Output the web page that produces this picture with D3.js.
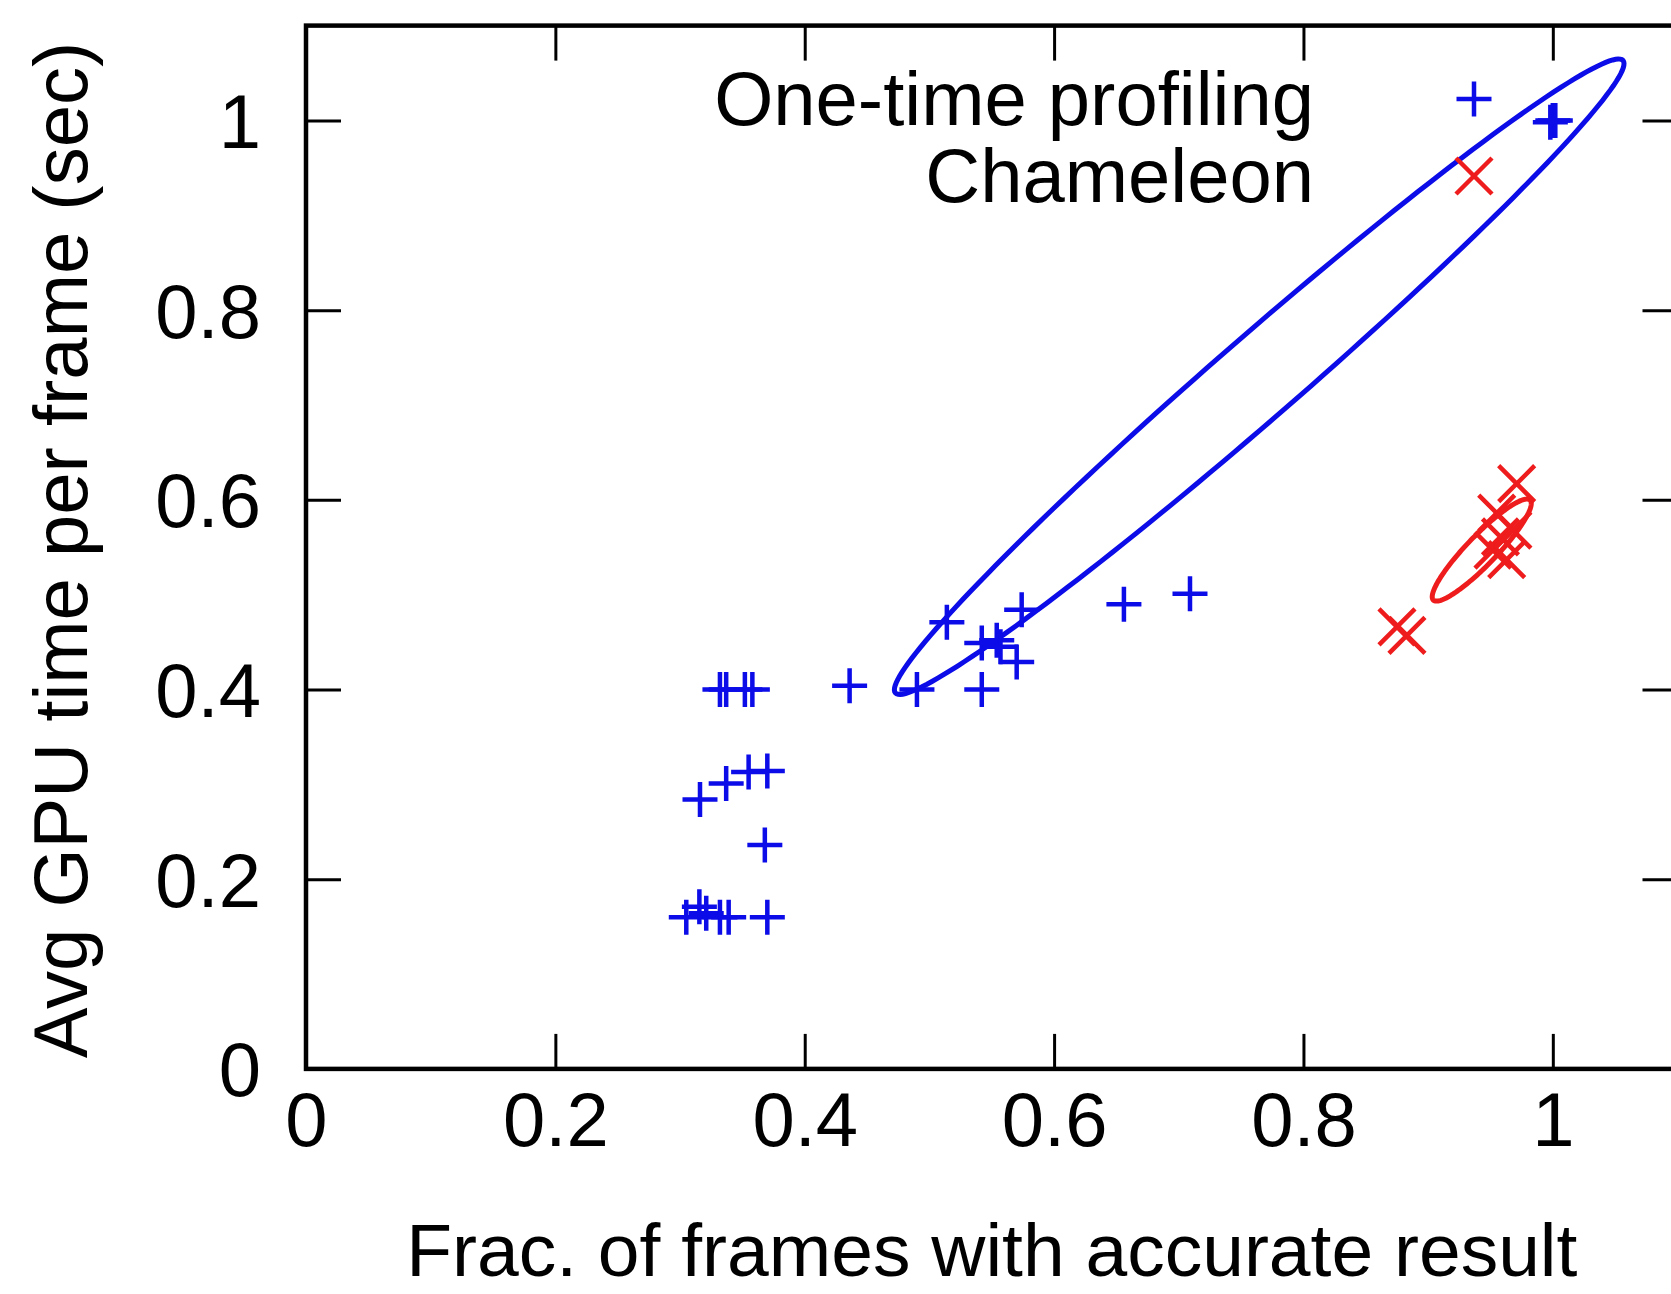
<!DOCTYPE html>
<html>
<head>
<meta charset="utf-8">
<script src="https://cdn.jsdelivr.net/npm/d3@7"></script>
<style>
  body { margin: 0; background: #fff; }
  svg { display: block; font-family: "Liberation Sans", Arial, Helvetica, sans-serif; }
</style>
</head>
<body>
<svg id="chart" width="1671" height="1294"></svg>
<script>
// ticks
const xTicks = [0, 0.2, 0.4, 0.6, 0.8, 1];
const yTicks = [0, 0.2, 0.4, 0.6, 0.8, 1];

// One-time profiling (blue +)
const profX = [1.0, 0.998, 1.002, 0.514, 0.542, 0.554, 0.557, 0.570, 0.574, 0.542, 0.490, 0.436, 0.656, 0.709,
               0.332, 0.337, 0.352, 0.358, 0.316, 0.337, 0.355, 0.370, 0.368,
               0.305, 0.3155, 0.321, 0.332, 0.339, 0.370];
const profY = [1.0, 0.998, 1.0, 0.471, 0.449, 0.452, 0.445, 0.429, 0.484, 0.400, 0.400, 0.404, 0.490, 0.501,
               0.400, 0.400, 0.400, 0.400, 0.284, 0.301, 0.313, 0.314, 0.236,
               0.160, 0.171, 0.164, 0.160, 0.160, 0.160];

// Chameleon (red x)
const chamX = [0.875, 0.883, 0.971, 0.955, 0.958, 0.952, 0.963, 0.968];
const chamY = [0.466, 0.457, 0.617, 0.586, 0.561, 0.547, 0.537, 0.568];

// ellipses: centre, major half-axis, minor half-axis (data units)
const profEllipse = [[0.7645, 0.7298], [0.2918, 0.3334], [0.0216, -0.0326]];
const chamEllipse = [[0.943, 0.547], [0.0388, 0.0527], [0.0085, -0.0108]];

const blue = "#0c0ce8";
const red = "#ee1c1c";

const svg = d3.select("#chart");
const plotLeft = 306, plotRight = 1677.5, plotTop = 25.6, plotBottom = 1068.9;

const x = d3.scaleLinear().domain([0, 1.1]).range([plotLeft, plotRight]);
const y = d3.scaleLinear().domain([0, 1.1]).range([plotBottom, plotTop]);

// ellipses
function ellipsePts(e) {
  const pts = [];
  for (let i = 0; i < 180; i++) {
    const t = i / 180 * 2 * Math.PI;
    pts.push([e[0][0] + e[1][0] * Math.cos(t) + e[2][0] * Math.sin(t),
              e[0][1] + e[1][1] * Math.cos(t) + e[2][1] * Math.sin(t)]);
  }
  return pts;
}
const line = d3.line().x(d => x(d[0])).y(d => y(d[1])).curve(d3.curveLinearClosed);

svg.append("path").attr("d", line(ellipsePts(profEllipse)))
  .attr("fill", "none").attr("stroke", blue).attr("stroke-width", 5);
svg.append("path").attr("d", line(ellipsePts(chamEllipse)))
  .attr("fill", "none").attr("stroke", red).attr("stroke-width", 5);

const plus = "M-17.5,0H17.5M0,-17.5V17.5";
const cross = "M-18,-18L18,18M-18,18L18,-18";

svg.append("g").selectAll("path")
  .data(d3.zip(profX, profY))
  .enter().append("path")
  .attr("transform", d => "translate(" + x(d[0]) + "," + y(d[1]) + ")")
  .attr("d", plus).attr("stroke", blue).attr("stroke-width", 4.5).attr("fill", "none");

svg.append("g").selectAll("path")
  .data(d3.zip(chamX, chamY))
  .enter().append("path")
  .attr("transform", d => "translate(" + x(d[0]) + "," + y(d[1]) + ")")
  .attr("d", cross).attr("stroke", red).attr("stroke-width", 4.5).attr("fill", "none");

// axes
const fmt = d => d === 0 ? "0" : d === 1 ? "1" : d3.format(".1f")(d);

const gx = svg.append("g").attr("transform", "translate(0," + plotBottom + ")")
  .call(d3.axisBottom(x).tickValues(xTicks).tickSize(-35).tickSizeOuter(0).tickFormat(fmt));
gx.selectAll("text").attr("y", 77).attr("dy", 0);

const gy = svg.append("g").attr("transform", "translate(" + plotLeft + ",0)")
  .call(d3.axisLeft(y).tickValues(yTicks).tickSize(-35).tickSizeOuter(0).tickFormat(fmt));
gy.selectAll("text").attr("x", -45).attr("y", 27).attr("dy", 0);

svg.append("g").attr("transform", "translate(0," + plotTop + ")")
  .call(d3.axisTop(x).tickValues(xTicks).tickSize(-35).tickSizeOuter(0).tickFormat(""));
svg.append("g").attr("transform", "translate(" + plotRight + ",0)")
  .call(d3.axisRight(y).tickValues(yTicks).tickSize(-35).tickSizeOuter(0).tickFormat(""));

svg.selectAll(".domain").remove();
svg.selectAll(".tick line").attr("stroke", "#000").attr("stroke-width", 3);
svg.selectAll(".tick text").attr("font-size", 76).attr("font-family", null).attr("fill", "#000");

svg.append("rect").attr("x", plotLeft).attr("y", plotTop)
  .attr("width", plotRight - plotLeft).attr("height", plotBottom - plotTop)
  .attr("fill", "none").attr("stroke", "#000").attr("stroke-width", 4.5);

// axis titles
svg.append("text").attr("x", (plotLeft + plotRight) / 2).attr("y", 1276)
  .attr("text-anchor", "middle").attr("font-size", 75)
  .text("Frac. of frames with accurate result");

svg.append("text").attr("transform", "translate(87,550) rotate(-90)")
  .attr("text-anchor", "middle").attr("font-size", 76)
  .text("Avg GPU time per frame (sec)");

// legend
const legend = [["One-time profiling", plus, blue], ["Chameleon", cross, red]];
legend.forEach((d, i) => {
  const by = 125 + i * 77;
  svg.append("text").attr("x", 1314).attr("y", by)
    .attr("text-anchor", "end").attr("font-size", 76).text(d[0]);
  svg.append("path").attr("transform", "translate(1474," + (by - 26) + ")")
    .attr("d", d[1]).attr("stroke", d[2]).attr("stroke-width", 4.5).attr("fill", "none");
});
</script>
</body>
</html>
